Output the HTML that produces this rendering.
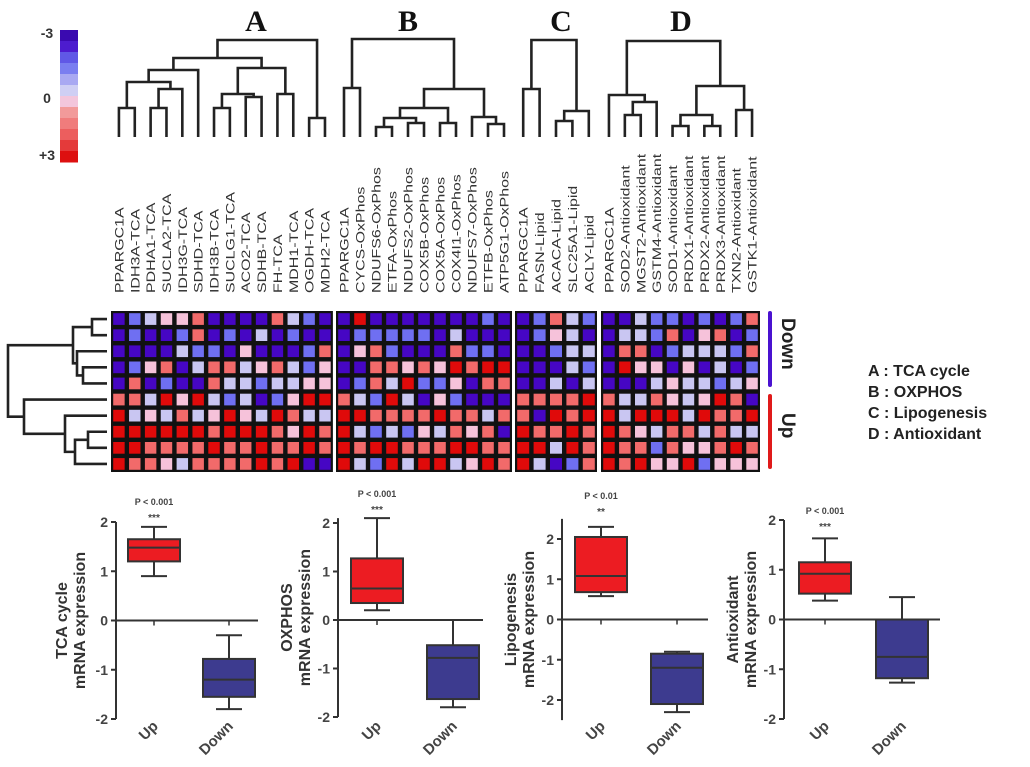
<!DOCTYPE html>
<html><head><meta charset="utf-8"><style>
html,body{margin:0;padding:0;background:#fff;}
svg{display:block;font-family:"Liberation Sans",sans-serif;}
</style></head><body>
<svg id="fig" width="1030" height="767" viewBox="0 0 1030 767" xmlns="http://www.w3.org/2000/svg"></svg>
<script>
// ---------- DATA ----------
const blockNames = ["A","B","C","D"];
const legendLabels = ["A : TCA cycle","B : OXPHOS","C : Lipogenesis","D : Antioxidant"];
const genesA = ["PPARGC1A","IDH3A-TCA","PDHA1-TCA","SUCLA2-TCA","IDH3G-TCA","SDHD-TCA","IDH3B-TCA","SUCLG1-TCA","ACO2-TCA","SDHB-TCA","FH-TCA","MDH1-TCA","OGDH-TCA","MDH2-TCA"];
const genesB = ["PPARGC1A","CYCS-OxPhos","NDUFS6-OxPhos","ETFA-OxPhos","NDUFS2-OxPhos","COX5B-OxPhos","COX5A-OxPhos","COX4I1-OxPhos","NDUFS7-OxPhos","ETFB-OxPhos","ATP5G1-OxPhos"];
const genesC = ["PPARGC1A","FASN-Lipid","ACACA-Lipid","SLC25A1-Lipid","ACLY-Lipid"];
const genesD = ["PPARGC1A","SOD2-Antioxidant","MGST2-Antioxidant","GSTM4-Antioxidant","SOD1-Antioxidant","PRDX1-Antioxidant","PRDX2-Antioxidant","PRDX3-Antioxidant","TXN2-Antioxidant","GSTK1-Antioxidant"];
const heatA = [
[-3,-2,-1,1,1,2,-3,-3,-3,-3,2,-1,-2,-3],
[-3,-2,-3,-3,-2,2,-3,-2,-3,-1,-3,-2,-3,-3],
[-3,-3,-3,-3,-1,-2,-2,-3,1,-3,-3,-3,-2,2],
[-3,-2,1,2,-3,-1,2,2,-1,1,2,-1,-2,1],
[-3,2,-3,-2,-3,-3,2,-1,-1,-2,-1,-1,1,1],
[2,2,-1,3,1,3,-1,-2,-1,-3,-2,1,3,3],
[3,-1,1,-1,2,-1,1,3,1,-1,3,2,-1,-1],
[3,3,3,3,3,3,2,3,3,3,2,1,3,2],
[3,3,2,2,2,2,3,2,2,3,2,2,3,2],
[3,2,2,1,-1,2,2,2,2,3,2,3,-3,-3]];
const heatB = [
[-3,3,-3,-3,-3,-3,-3,-3,-3,-2,-3],
[-3,-2,-2,-2,-2,-2,-3,-1,-3,-3,-3],
[-3,1,2,-2,-3,-3,-3,2,-2,-2,-3],
[-3,-3,2,2,1,2,1,3,2,3,3],
[-3,-2,2,-1,3,-2,-2,1,-3,2,2],
[2,-1,-2,3,-1,-3,1,-2,-3,-3,-3],
[3,3,2,2,2,2,3,2,2,-1,2],
[3,-1,-2,-1,-2,1,-1,2,1,2,-3],
[3,2,3,3,2,2,2,3,3,2,2],
[3,-1,-2,3,-1,3,3,-1,1,3,2]];
const heatC = [
[-3,-2,2,-1,-2],[-3,-2,1,-1,-3],[-3,-3,-2,-1,-1],[-3,-3,-3,-1,-2],[-3,-3,-1,-3,-1],
[2,2,2,2,3],[2,-3,3,2,3],[3,2,2,3,2],[3,3,-1,3,2],[3,-1,-3,-2,2]];
const heatD = [
[-3,-3,-1,-2,-2,-3,-2,-3,-2,2],
[-3,-1,-1,-2,2,-3,1,2,-3,-2],
[-3,2,2,-3,-2,-1,-1,-1,-2,2],
[-3,3,1,1,-3,1,-3,-1,-3,-2],
[-3,-3,-3,-1,1,-1,-1,-2,-1,1],
[2,-1,-1,2,1,-1,1,3,2,-3],
[3,-1,3,3,3,-1,3,2,2,3],
[3,2,1,-1,2,2,-1,2,-1,-1],
[3,2,2,-2,2,1,1,2,3,2],
[3,2,3,1,1,3,-2,1,1,1]];
// dendrogram trees: [joinY, left, right]; leaves = column index
const treeA = [40,[58,[70,[82,[108,0,1],[89,[108,2,3],4]],5],[68,[94,[108,6,7],[97,8,9]],[94,10,11]]],[118,12,13]];
const treeB = [39,[88,0,1],[89,[108,[118,[127,2,3],[123,4,5]],[123,6,7]],[117,8,[124,9,10]]]];
const treeC = [40,[89,0,1],[111,[121,2,3],4]];
const treeD = [41,[95,0,[102,[115,1,2],3]],[86,[115,[126,4,5],[126,6,7]],[110,8,9]]];
const treeRows = [8,[73,[92,0,1],[77,2,[83,3,4]]],[24,5,[65,6,[75,[88,7,8],9]]]];
// box plots
const boxTitles = [["TCA cycle","mRNA expression"],["OXPHOS","mRNA expression"],["Lipogenesis","mRNA expression"],["Antioxidant","mRNA expression"]];
const pLabels = ["P < 0.001","P < 0.001","P < 0.01","P < 0.001"];
const starLabels = ["***","***","**","***"];
const groupNames = ["Up","Down"];
const upStats = [[0.9,1.2,1.48,1.65,1.9],[0.2,0.35,0.65,1.27,2.1],[0.58,0.68,1.08,2.05,2.3],[0.38,0.52,0.92,1.15,1.63]];
const downStats = [[-1.8,-1.55,-1.2,-0.78,-0.3],[-1.8,-1.63,-0.78,-0.52,0],[-2.3,-2.1,-1.2,-0.85,-0.8],[-1.27,-1.18,-0.75,0,0.45]];
const yTicks = [[2,1,0,-1,-2],[2,1,0,-1,-2],[2,1,0,-1,-2],[2,1,0,-1,-2]];
const colorScaleLabels = ["-3","0","+3"];

// ---------- LAYOUT ----------
const NS="http://www.w3.org/2000/svg";
const svg=document.getElementById('fig');
function el(tag,attrs,parent){const e=document.createElementNS(NS,tag);for(const k in attrs)e.setAttribute(k,attrs[k]);(parent||svg).appendChild(e);return e;}
function color(v){return {"-3":"#4606c4","-2":"#6f6ff2","-1":"#c9c6f2","0":"#f2f2f2","1":"#f6c2da","2":"#f26a6a","3":"#e00a0a"}[String(v)];}

// color scale
const cs=el('g',{});


const scaleCols=["#3a0ab0","#4d1ccf","#6058e6","#7a7ef0","#a9a9f2","#cfcff4","#f3c6dc","#f29a9a","#f07c7c","#ec5e5e","#e43a3a","#dd1010"];
scaleCols.forEach((c,i)=>{el('rect',{x:60,y:30+i*11,width:18,height:11.5,fill:c},cs);});
[[38,colorScaleLabels[0]],[103,colorScaleLabels[1]],[160,colorScaleLabels[2]]].forEach(([y,t])=>{const tx=el('text',{x:47,y:y,'text-anchor':'middle','font-size':14,'font-weight':'bold',fill:'#333'},cs);tx.textContent=t;});

// heatmap blocks
const blocks=[{x0:111,w:15.85,genes:genesA,data:heatA,tree:treeA,lx:256},
{x0:336,w:16.0,genes:genesB,data:heatB,tree:treeB,lx:408},
{x0:515,w:16.4,genes:genesC,data:heatC,tree:treeC,lx:561},
{x0:601,w:15.9,genes:genesD,data:heatD,tree:treeD,lx:681}];
const hy0=311, rh=16.1, leafY=137;
function drawTree(node,xf,g,orient){
  if(typeof node==='number') return xf(node);
  const a=drawTree(node[1],xf,g,orient), b=drawTree(node[2],xf,g,orient);
  const h=node[0];
  const ha=typeof node[1]==='number'?(orient==='top'?leafY:107):node[1][0];
  const hb=typeof node[2]==='number'?(orient==='top'?leafY:107):node[2][0];
  let d;
  if(orient==='top') d=`M${a},${ha}V${h}H${b}V${hb}`;
  else d=`M${ha},${a}H${h}V${b}H${hb}`;
  el('path',{d:d,fill:'none',stroke:'#222','stroke-width':2.6},g);
  return (a+b)/2;
}
blocks.forEach((b,bi)=>{
  const g=el('g',{});
  
  
  const ncol=b.genes.length;
  el('rect',{x:b.x0,y:hy0,width:ncol*b.w,height:10*rh,fill:'#111'},g);
  b.data.forEach((row,ri)=>row.forEach((v,ci)=>{
    const r=el('rect',{x:b.x0+ci*b.w+2.2,y:hy0+ri*rh+2.2,width:b.w-4.4,height:rh-4.4,fill:color(v)},g);
    
    
  }));
  const xf=i=>b.x0+b.w*(i+0.5);
  const dg=el('g',{},g);
  
  
  drawTree(b.tree,xf,dg,'top');
  const lt=el('text',{x:b.lx,y:31,'text-anchor':'middle','font-family':'"Liberation Serif",serif','font-size':30,'font-weight':'bold',fill:'#111'});
  lt.textContent=blockNames[bi];
  
  
  b.genes.forEach((gn,i)=>{
    const x=xf(i)+4.5;
    const t=el('text',{x:0,y:0,transform:`translate(${x} 293) rotate(-90) scale(1.33 1)`,'font-size':12,fill:'#333'},g);
    t.textContent=gn;
    
    
  });
});
// row dendrogram
const rg=el('g',{});


drawTree(treeRows,i=>hy0+rh*(i+0.5),rg,'left');
// group bars
const gb=el('g',{});


el('line',{x1:770,y1:313,x2:770,y2:385,stroke:'#4a12d0','stroke-width':4,'stroke-linecap':'round'},gb);
el('line',{x1:770,y1:396,x2:770,y2:467,stroke:'#e01a1a','stroke-width':4,'stroke-linecap':'round'},gb);
[[groupNames[1],318],[groupNames[0],413]].forEach(([t,y])=>{const tx=el('text',{x:782,y:y,transform:`rotate(90 782 ${y})`,'font-size':19,'font-weight':'bold',fill:'#222'},gb);tx.textContent=t;});
// legend
const lg=el('g',{});


legendLabels.forEach((t,i)=>{const tx=el('text',{x:868,y:376+i*21,'font-size':16,'font-weight':'bold',fill:'#222'},lg);tx.textContent=t;});

// box plots
const panels=[{ax:116,y2:522,ym2:719,top:2,bot:-2,cx:[154,229],xend:258,pY:505,t1:62},
{ax:338,y2:523,ym2:717,top:2.1,bot:-2,cx:[377,453],xend:483,pY:497,t1:287},
{ax:562,y2:539,ym2:700,top:2.5,bot:-2.5,cx:[601,677],xend:708,pY:499,t1:511},
{ax:784,y2:520,ym2:719,top:2,bot:-2,cx:[825,902],xend:940,pY:514,t1:733}];
panels.forEach((p,pi)=>{
  const g=el('g',{});
  
  
  const ys=v=>p.y2+(2-v)*(p.ym2-p.y2)/4;
  el('line',{x1:p.ax,y1:ys(p.top),x2:p.ax,y2:ys(p.bot),stroke:'#333','stroke-width':2},g);
  yTicks[pi].forEach(v=>{
    el('line',{x1:p.ax-5,y1:ys(v),x2:p.ax,y2:ys(v),stroke:'#333','stroke-width':2},g);
    const t=el('text',{x:p.ax-8,y:ys(v)+5,'text-anchor':'end','font-size':14,'font-weight':'bold',fill:'#444'},g);t.textContent=v;
  });
  el('line',{x1:p.ax,y1:ys(0),x2:p.xend,y2:ys(0),stroke:'#333','stroke-width':2},g);
  [upStats[pi],downStats[pi]].forEach((s,gi)=>{
    const cx=p.cx[gi], hw=26;
    el('line',{x1:cx,y1:ys(0),x2:cx,y2:ys(0)+5,stroke:'#333','stroke-width':1.5},g);
    el('line',{x1:cx,y1:ys(s[0]),x2:cx,y2:ys(s[4]),stroke:'#333','stroke-width':2},g);
    el('line',{x1:cx-13,y1:ys(s[0]),x2:cx+13,y2:ys(s[0]),stroke:'#333','stroke-width':2},g);
    el('line',{x1:cx-13,y1:ys(s[4]),x2:cx+13,y2:ys(s[4]),stroke:'#333','stroke-width':2},g);
    const bx=el('rect',{x:cx-hw,y:ys(s[3]),width:hw*2,height:Math.max(ys(s[1])-ys(s[3]),0.5),fill:gi===0?'#ec1c22':'#3d3b8f',stroke:'#333','stroke-width':2},g);
    
    
    el('line',{x1:cx-hw,y1:ys(s[2]),x2:cx+hw,y2:ys(s[2]),stroke:'#333','stroke-width':2},g);
    const lx=cx+5, ly=727;
    const t=el('text',{x:lx,y:ly,transform:`rotate(-45 ${lx} ${ly})`,'text-anchor':'end','font-size':15,'font-weight':'bold',fill:'#444'},g);t.textContent=groupNames[gi];
  });
  const pt=el('text',{x:p.cx[0],y:p.pY,'text-anchor':'middle','font-size':9,'font-weight':'bold',fill:'#444'},g);pt.textContent=pLabels[pi];
  const st=el('text',{x:p.cx[0],y:p.pY+16,'text-anchor':'middle','font-size':10,'font-weight':'bold',fill:'#444'},g);st.textContent=starLabels[pi];
  [p.t1+5,p.t1+23].forEach((x,i)=>{const cy=(ys(p.top)+ys(p.bot))/2;const t=el('text',{x:x,y:cy,transform:`rotate(-90 ${x} ${cy})`,'text-anchor':'middle','font-size':16,'font-weight':'bold',fill:'#333'},g);t.textContent=boxTitles[pi][i];});
});
</script>
</body></html>
